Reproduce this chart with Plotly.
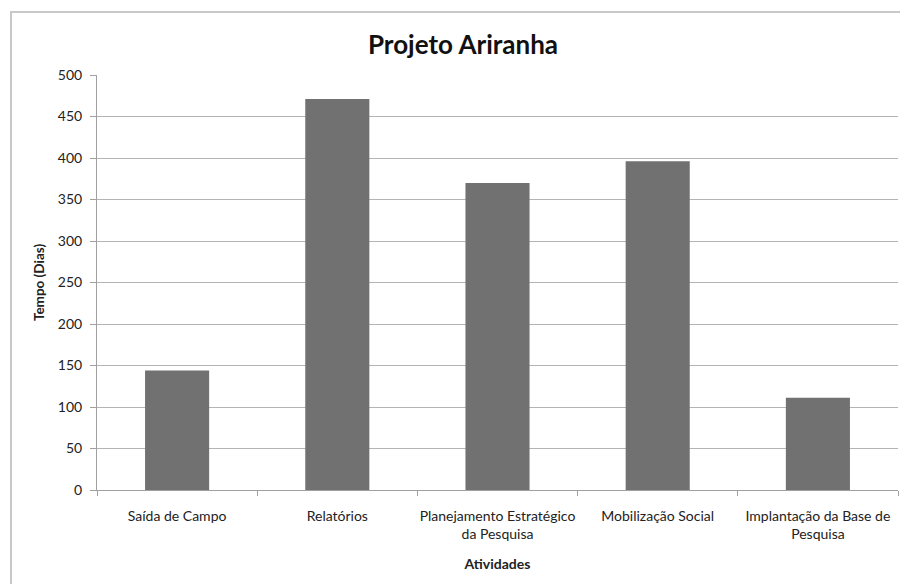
import plotly.graph_objects as go

categories = ["Saída de Campo", "Relatórios", "Planejamento Estratégico<br>da Pesquisa",
              "Mobilização Social", "Implantação da Base de<br>Pesquisa"]
values = [144, 471, 370, 396, 111]
y_ticks = [0, 50, 100, 150, 200, 250, 300, 350, 400, 450, 500]

FONT = "Lato, Open Sans, sans-serif"

# page shows figure offset by 8px (body margin)
OFF = 8
W, H = 908 - OFF, 584 - OFF
L, T = 97 - OFF, 75 - OFF
R = W - (898 - OFF)
B = H - (490 - OFF)
PW, PH = W - L - R, H - T - B

fig = go.Figure(go.Bar(x=categories, y=values, marker=dict(color="#717171", line=dict(width=0)),
                       width=0.4))

fig.update_layout(
    width=W, height=H,
    margin=dict(l=L, r=R, t=T, b=B, autoexpand=False),
    paper_bgcolor="white", plot_bgcolor="white",
    font=dict(family=FONT, color="#222222", size=13),
    title=dict(text="<b>Projeto Ariranha</b>", x=(463 - OFF) / W, xanchor="center",
               y=1 - (45 - OFF) / H, yanchor="middle",
               font=dict(size=26, family=FONT, color="#111111")),
    showlegend=False,
    xaxis=dict(
        title=dict(text="<b>Atividades</b>", font=dict(size=14), standoff=18),
        showline=True, linecolor="#a0a0a0", linewidth=1,
        ticks="outside", ticklen=5, tickcolor="#a0a0a0",
        tickson="boundaries", tickfont=dict(size=14), tickangle=0,
        ticklabelstandoff=13,
        showgrid=False, automargin=False,
    ),
    yaxis=dict(
        title=dict(text="<b>Tempo (Dias)</b>", font=dict(size=13.5), standoff=10),
        range=[0, 500], tickvals=y_ticks,
        showline=True, linecolor="#a0a0a0", linewidth=1,
        ticks="outside", ticklen=6, tickcolor="#a0a0a0",
        ticklabelstandoff=5,
        showgrid=True, gridcolor="#b4b4b4", gridwidth=1,
        zeroline=False, tickfont=dict(size=14), automargin=False,
    ),
    shapes=[dict(type="rect", xref="paper", yref="paper",
                 x0=(11 - 97) / PW, x1=(906 - 97) / PW,
                 y0=-(584 - 490 + 30) / PH, y1=1 + (75 - 12) / PH,
                 line=dict(color="#c8c8c8", width=2), fillcolor="rgba(0,0,0,0)", layer="below")],
)
fig.write_html("out.html")
